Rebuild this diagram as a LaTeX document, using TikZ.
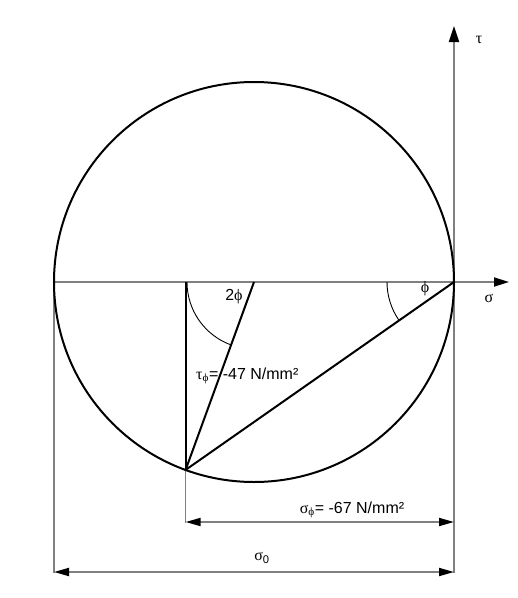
\documentclass[tikz,border=0pt]{standalone}
\usepackage{fontspec}
\setmainfont{Liberation Sans}
\newfontfamily\gr{Liberation Serif}
\usetikzlibrary{arrows.meta}
\begin{document}
\begin{tikzpicture}[x=1pt,y=-1pt,
  axis/.style={draw=gray,line width=1.8pt},
  thick line/.style={draw=black,line width=2pt},
  thin arc/.style={draw=black,line width=0.9pt},
  dimline/.style={draw=gray,line width=1.8pt,{Triangle[length=15pt,width=8pt,fill=black,color=black]}-{Triangle[length=15pt,width=8pt,fill=black,color=black]}},
  lbl/.style={font=\fontsize{16pt}{18pt}\selectfont,inner sep=0pt}]
\useasboundingbox (0,0) rectangle (518,598);
% key points
\coordinate (O) at (254,282);
\coordinate (L) at (54,282);
\coordinate (R) at (454,282);
\coordinate (A) at (185.6,469.9);
\coordinate (F) at (185.6,282);
\coordinate (Xend) at (509,282);
\coordinate (Ytop) at (454,26);
\coordinate (Ybot) at (454,573);
\coordinate (Lbot) at (54,573);
\coordinate (Abot) at (185.6,523);
\coordinate (D1l) at (185.6,522);
\coordinate (D1r) at (454,522);
\coordinate (D2l) at (54,572);
\coordinate (D2r) at (454,572);
% axes
\draw[axis,-{Triangle[length=15pt,width=9pt,fill=black,color=black]}] (L) -- (Xend);
\draw[axis,-{Triangle[length=16pt,width=10pt,fill=black,color=black]}] (Ybot) -- (Ytop);
\draw[axis] (L) -- (Lbot);
\draw[axis,line width=1.4pt] (A) -- (Abot);
% circle
\draw[thick line] (O) circle (200);
% lines
\draw[thick line] (F) -- (A);
\draw[thick line] (A) -- (O);
\draw[thick line] (A) -- (R);
% angle arcs
\draw[thin arc] (187,282) arc[start angle=180,end angle=110,radius=67];
\draw[thin arc] (387,282) arc[start angle=180,end angle=145,radius=67];
% dimension lines
\draw[dimline] (D1l) -- (D1r);
\draw[dimline] (D2l) -- (D2r);
% labels
\node[lbl] (tau) at (479,40) {\gr τ};
\node[lbl] (sig) at (489,298) {\gr σ};
\node[lbl] (phi) at (425,289) {\gr ϕ};
\node[lbl] (twophi) at (234,297) {2{\gr ϕ}};
\node[lbl,anchor=base west] (taulbl) at (196,379) {{\gr τ}\textsubscript{\gr ϕ}= -47 N/mm²};
\node[lbl,anchor=base] (siglbl) at (352,513) {{\gr σ}\textsubscript{\gr ϕ}= -67 N/mm²};
\node[lbl] (sig0) at (262,558) {{\gr σ}\textsubscript{0}};
\end{tikzpicture}
\end{document}
